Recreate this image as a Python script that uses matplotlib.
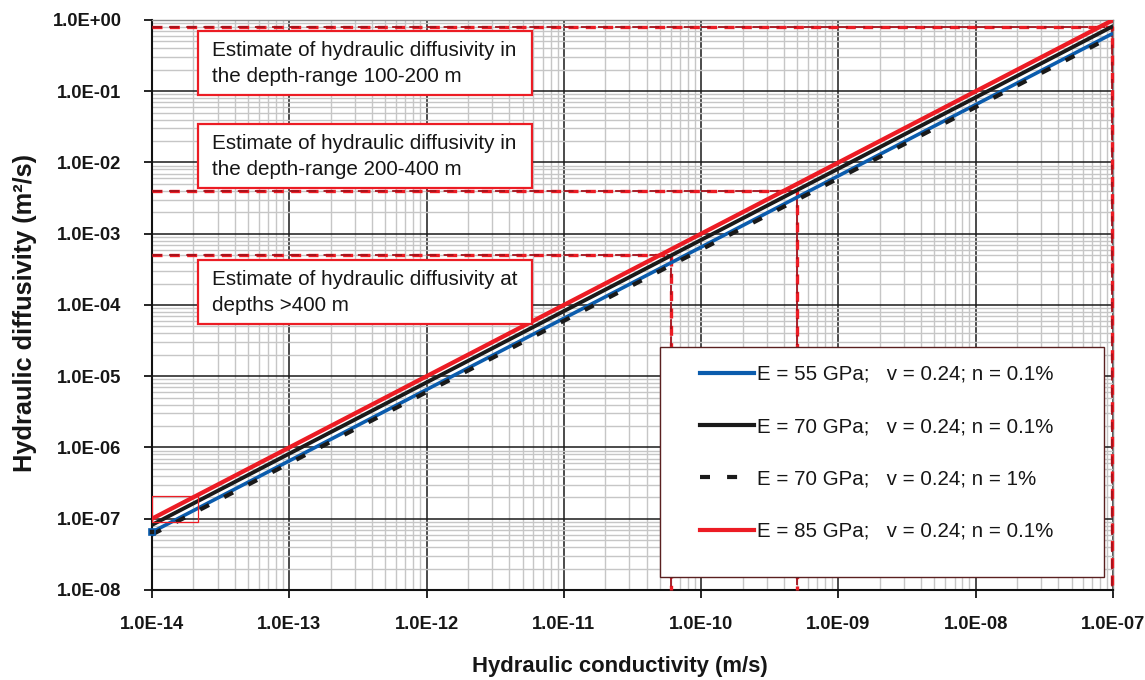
import math

import matplotlib
matplotlib.use("Agg")
import matplotlib.pyplot as plt
from matplotlib.patches import Rectangle
from matplotlib.ticker import LogLocator, NullFormatter, FuncFormatter

plt.rcParams["font.family"] = ["Liberation Sans", "DejaVu Sans"]

# ---- data ---------------------------------------------------------------
K_ENDS = [1e-14, 1e-7]                      # hydraulic conductivity (m/s)
D_E55 = [6.5e-8, 0.65]                      # E = 55 GPa, n = 0.1 %
D_E70 = [8.2e-8, 0.82]                      # E = 70 GPa, n = 0.1 %
D_E70_N1 = [6.0e-8, 0.60]                   # E = 70 GPa, n = 1 %
D_E85 = [1.0e-7, 1.0]                       # E = 85 GPa, n = 0.1 %
LABELS = ["E = 55 GPa;   v = 0.24; n = 0.1%",
          "E = 70 GPa;   v = 0.24; n = 0.1%",
          "E = 70 GPa;   v = 0.24; n = 1%",
          "E = 85 GPa;   v = 0.24; n = 0.1%"]

# estimate guides: diffusivity level and the conductivity where it meets the curve
GUIDE_D = [0.8, 4e-3, 5e-4]
GUIDE_K = [9.9e-8, 5.0e-10, 6.0e-11]
BOX_TEXT = [("Estimate of hydraulic diffusivity in", "the depth-range 100-200 m"),
            ("Estimate of hydraulic diffusivity in", "the depth-range 200-400 m"),
            ("Estimate of hydraulic diffusivity at", "depths >400 m")]
BOX_Y = [(0.8684, 0.9807), (0.7053, 0.8175), (0.4667, 0.5789)]   # axes fraction

SMALL_RECT = (1e-14, 9e-8, 2.15e-14, 2.1e-7)

BLUE, BLACK, RED, DRED = "#0b5cad", "#1a1a1a", "#ec1c24", "#a3111b"
TEXT = "#161616"

fig = plt.figure(figsize=(11.45, 6.8), dpi=100)
ax = fig.add_axes([0.1328, 0.1324, 0.8393, 0.8382])
ax.set_xscale("log")
ax.set_yscale("log")
ax.set_xlim(1e-14, 1e-7)
ax.set_ylim(1e-8, 1e0)

for axis in (ax.xaxis, ax.yaxis):
    axis.set_major_locator(LogLocator(base=10, numticks=100))
    axis.set_minor_locator(LogLocator(base=10, subs=range(2, 10), numticks=100))
    axis.set_major_formatter(FuncFormatter(lambda v, p: "1.0E{:+03d}".format(round(math.log10(v)))))
    axis.set_minor_formatter(NullFormatter())
ax.grid(which="minor", color="#c6c6c6", lw=1.0)
ax.grid(which="major", color="#1a1a1a", lw=1.1)
ax.set_axisbelow(True)

ax.tick_params(which="major", direction="out", length=6, width=1.2, labelsize=13.2,
               labelcolor=TEXT)
ax.tick_params(axis="y", pad=16)
ax.tick_params(axis="x", pad=13)
ax.tick_params(which="minor", length=0)
for lab in ax.get_xticklabels() + ax.get_yticklabels():
    lab.set_fontweight("bold")

for s in ["left", "bottom"]:
    ax.spines[s].set_color("#111111"); ax.spines[s].set_linewidth(1.5)
for s in ["top", "right"]:
    ax.spines[s].set_color("#888888"); ax.spines[s].set_linewidth(1.0)

# guide lines
for d, k in zip(GUIDE_D, GUIDE_K):
    ax.plot([K_ENDS[0], k, k], [d, d, 1e-8], color=RED, lw=2.4, ls=(0, (3, 2.2)), zorder=3, clip_on=False)
    ax.plot([K_ENDS[0], k, k], [d, d, 1e-8], color=DRED, lw=1.3, ls=(0, (5.5, 4)), zorder=3, clip_on=False)

ax.add_patch(Rectangle((SMALL_RECT[0], SMALL_RECT[1]), SMALL_RECT[2] - SMALL_RECT[0],
                       SMALL_RECT[3] - SMALL_RECT[1], fill=False, ec=RED, lw=0.9, zorder=8))

h1, = ax.plot(K_ENDS, D_E55, color=BLUE, lw=2.6, solid_capstyle="butt", zorder=4)
h3, = ax.plot(K_ENDS, D_E70_N1, color=BLACK, lw=3.0, ls=(0, (2.4, 4.1)), zorder=5)
h2, = ax.plot(K_ENDS, D_E70, color=BLACK, lw=2.8, solid_capstyle="butt", zorder=6)
h4, = ax.plot(K_ENDS, D_E85, color=RED, lw=3.1, solid_capstyle="butt", zorder=7)
# small end marker left over at the start of the blue curve
ax.plot(K_ENDS[:1], D_E55[:1], ls="none", marker="s", ms=4.5, mfc=BLACK, mec=BLUE,
        mew=1.2, zorder=8, clip_on=False)

# text boxes
for (line1, line2), (y0, y1) in zip(BOX_TEXT, BOX_Y):
    ax.add_patch(Rectangle((0.0479, y0), 0.3475, y1 - y0, transform=ax.transAxes,
                           fc="white", ec=RED, lw=1.6, zorder=9))
    ax.text(0.0621, y1 - 24.8 / 570, line1, transform=ax.transAxes, ha="left",
            va="baseline", fontsize=14.9, color=TEXT, zorder=10)
    ax.text(0.0621, y1 - 51.4 / 570, line2, transform=ax.transAxes, ha="left",
            va="baseline", fontsize=14.9, color=TEXT, zorder=10)

# legend: white panel + frameless legend on top
ax.add_patch(Rectangle((0.5286, 0.0228), 0.4620, 0.4035, transform=ax.transAxes,
                       fc="white", ec="#5a2020", lw=1.0, zorder=11))
h1m, = ax.plot([], [], color=BLUE, lw=3.0)
h2m, = ax.plot([], [], color=BLACK, lw=3.0)
h4m, = ax.plot([], [], color=RED, lw=3.0)
leg = ax.legend([h1m, h2m, h3, h4m], LABELS, loc="upper left",
                bbox_to_anchor=(0.5702, 0.3947), frameon=False,
                fontsize=14.8, handlelength=2.62, handletextpad=0.16, labelspacing=1.62,
                borderpad=0, borderaxespad=0)
leg.set_zorder(12)
for t in leg.get_texts():
    t.set_color(TEXT)

ax.set_ylabel("Hydraulic diffusivity (m\u00b2/s)", fontsize=18.3, fontweight="bold", color=TEXT)
ax.yaxis.set_label_coords(-0.1197, 0.486)
ax.set_xlabel("Hydraulic conductivity (m/s)", fontsize=15.9, fontweight="bold", color=TEXT)
ax.xaxis.set_label_coords(0.487, -0.116)

fig.savefig("out.png", dpi=100)
